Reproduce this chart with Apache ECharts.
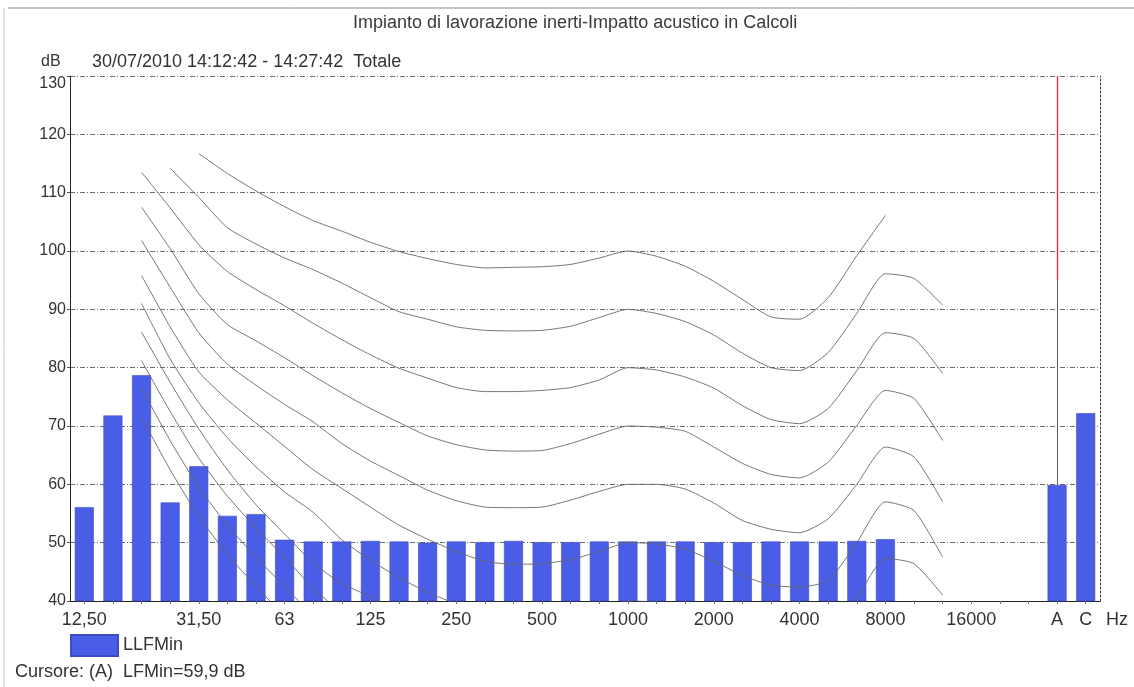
<!DOCTYPE html>
<html>
<head>
<meta charset="utf-8">
<title>Impianto di lavorazione inerti-Impatto acustico in Calcoli</title>
<script src="https://cdn.jsdelivr.net/npm/echarts@6/dist/echarts.min.js"></script>
<style>
  html, body { margin: 0; padding: 0; background: #ffffff; }
  #chart { width: 1134px; height: 687px; }
</style>
</head>
<body>
<div id="chart"></div>
<script>
// Third-octave bands 12.5 Hz .. 20 kHz, a spacer, then the A and C weighted totals
const bands = ['12.5','16','20','25','31.5','40','50','63','80','100','125','160','200','250','315','400','500','630','800','1000','1250','1600','2000','2500','3150','4000','5000','6300','8000','10000','12500','16000','20000','-','A','C'];

// Labels printed under the axis (blank where the band is not labelled)
const tickLabels = ['12,50','','','','31,50','','','63','','','125','','','250','','','500','','','1000','','','2000','','','4000','','','8000','','','16000','','','A','C'];

// LLFMin per band (dB)
const llfMin = [56.1, 71.8, 78.7, 56.9, 63.1, 54.6, 54.9, 50.5, 50.2, 50.2, 50.3, 50.2, 50.0, 50.2, 50.1, 50.3, 50.1, 50.1, 50.2, 50.2, 50.2, 50.2, 50.1, 50.1, 50.2, 50.2, 50.2, 50.3, 50.6, null, null, null, null, null, 59.9, 72.2];

// Equal-loudness contours, dB per band from 20 Hz to 12.5 kHz
const phon100 = [null, null, 116.7, 113.3, 110.3, 107.6, 105.2, 103.4, 101.5, 99.9, 98.7, 97.7, 97.1, 97.2, 97.3, 97.7, 98.8, 100, 99.1, 97.4, 94.8, 91.7, 88.7, 88.3, 92.0, 99.2, 106.1, null, null];
const phon90  = [null, 114.2, 109.2, 104.0, 101.2, 98.8, 96.8, 94.5, 92.0, 89.6, 88.3, 87.0, 86.4, 86.3, 86.4, 87.1, 88.6, 90, 89.3, 87.9, 85.6, 82.5, 80.0, 79.5, 82.6, 89.3, 96.1, 95.3, 90.7];
const phon80  = [113.5, 107.4, 101.1, 96.5, 93.4, 90.6, 87.6, 84.8, 82.2, 79.9, 78.2, 76.6, 75.9, 75.9, 76.1, 76.6, 77.9, 80, 79.6, 78.4, 76.5, 73.5, 71.1, 70.4, 73.0, 79.5, 86.0, 85.0, 79.0];
const phon70  = [107.5, 100.4, 92.7, 87.4, 84.6, 81.7, 78.6, 75.7, 73.0, 70.6, 68.3, 66.8, 65.9, 65.7, 65.8, 67.0, 68.6, 70, 69.8, 69.1, 66.4, 63.6, 61.7, 61.1, 63.8, 70.1, 76.1, 74.7, 67.5];
const phon60  = [101.8, 93.8, 86.0, 80.6, 77.0, 73.7, 70.7, 67.0, 64.0, 61.5, 59.0, 57.2, 56.1, 56.0, 56.1, 57.3, 58.8, 60, 60.0, 59.2, 56.8, 53.8, 52.3, 51.7, 54.1, 60.0, 66.4, 64.7, 57.0];
const phon50  = [95.8, 87.0, 79.3, 74.5, 70.5, 66.5, 62.5, 59.3, 56.1, 53.0, 50.6, 48.5, 46.8, 46.3, 46.4, 47.1, 48.5, 50, 49.8, 48.9, 46.8, 44.4, 42.7, 42.4, 43.5, 50.0, 57.0, 55.5, 47.5];
const phon40  = [91.0, 81.5, 74.0, 68.0, 63.0, 58.7, 55.2, 50.5, 47.0, 44.0, 41.5, 39.5, 38.0, 37.0, 37.0, 37.5, 38.5, 40, 39.8, 39.0, 37.0, 34.5, 33.0, 32.5, 34.0, 40.5, 47.3, 46.4, 41.0];
const phon30  = [86.1, 77.5, 69.5, 62.5, 56.5, 51.5, 46.5, 43.0, 40.7, 37.5, 35.5];
const phon20  = [81.2, 72.5, 64.5, 58.0, 52.5, 47.5, 42.2, 38.0, 35.0];
const phon10  = [76.5, 67.5, 59.5, 53.0, 47.5, 42.5, 37.5, 34.0];
const phon0   = [71.5, 62.5, 54.5, 48.0, 42.5, 37.5, 33.5];

const contours = [phon100, phon90, phon80, phon70, phon60, phon50, phon40, phon30, phon20, phon10, phon0];
const contourNames = ['100 phon','90 phon','80 phon','70 phon','60 phon','50 phon','40 phon','30 phon','20 phon','10 phon','0 phon'];

// Cursor line on the A total: red upper part, dark lower part (dB)
const cursorTop = 130;
const cursorSplit = 95;

// Contours start at the 20 Hz band (index 2); pad to the full band list
function alignToBands(arr) {
  const out = [null, null];
  for (let i = 0; i < bands.length - 2; i++) out.push(i < arr.length ? arr[i] : null);
  return out;
}

const fontFamily = '"Liberation Sans", Arial, sans-serif';
const chart = echarts.init(document.getElementById('chart'), null, { renderer: 'canvas' });

const contourSeries = contours.map((arr, k) => ({
  name: contourNames[k],
  type: 'line',
  data: alignToBands(arr),
  symbol: 'none',
  smooth: 0.2,
  clip: true,
  silent: true,
  z: 3,
  lineStyle: { color: '#666666', width: 0.9 }
}));

chart.setOption({
  animation: false,
  backgroundColor: '#ffffff',
  textStyle: { fontFamily: fontFamily },
  title: {
    text: 'Impianto di lavorazione inerti-Impatto acustico in Calcoli',
    left: 348,
    top: 9,
    textStyle: { fontSize: 18, fontWeight: 'normal', color: '#3a3a3a', fontFamily: fontFamily }
  },
  legend: {
    data: ['LLFMin'],
    left: 65,
    top: 629,
    itemWidth: 47,
    itemHeight: 21,
    itemGap: 8,
    icon: 'rect',
    textStyle: { fontSize: 18, color: '#333', fontFamily: fontFamily }
  },
  grid: { left: 70, right: 34, top: 76, bottom: 86, containLabel: false },
  xAxis: {
    type: 'category',
    data: bands,
    boundaryGap: true,
    axisLine: { show: true, lineStyle: { color: '#222', width: 1 } },
    axisTick: { show: true, interval: 0, alignWithLabel: true, length: 3, lineStyle: { color: '#777' } },
    axisLabel: {
      interval: 0,
      margin: 10,
      fontSize: 18,
      color: '#333',
      fontFamily: fontFamily,
      formatter: (v) => tickLabels[bands.indexOf(v)]
    },
    splitLine: { show: false }
  },
  yAxis: [{
    type: 'value',
    min: 40,
    max: 130,
    interval: 10,
    axisLine: { show: true, lineStyle: { color: '#222', width: 1 } },
    axisTick: { show: true, length: 3, lineStyle: { color: '#555' } },
    axisLabel: { fontSize: 16, color: '#333', margin: 4, fontFamily: fontFamily, verticalAlignMaxLabel: 'top' },
    splitLine: { show: true, lineStyle: { color: '#555', width: 1, type: [5, 2, 1, 2], opacity: 0.85 } }
  }, {
    type: 'value',
    position: 'right',
    min: 40,
    max: 130,
    interval: 10,
    axisLine: { show: true, lineStyle: { color: '#444', width: 1, type: [2, 2] } },
    axisTick: { show: false },
    axisLabel: { show: false },
    splitLine: { show: false }
  }],
  series: [{
    name: 'LLFMin',
    type: 'bar',
    data: llfMin,
    barWidth: 19,
    clip: true,
    z: 2,
    itemStyle: { color: '#4a5de6', borderColor: '#3c4bc4', borderWidth: 0.6 },
    markLine: {
      silent: true,
      symbol: 'none',
      label: { show: false },
      data: [
        [{ xAxis: 'A', yAxis: cursorTop, lineStyle: { color: '#e8263a', width: 1.3, type: 'solid' } },
         { xAxis: 'A', yAxis: cursorSplit }],
        [{ xAxis: 'A', yAxis: cursorSplit, lineStyle: { color: '#5a5a5a', width: 1, type: 'solid' } },
         { xAxis: 'A', yAxis: llfMin[34] }]
      ]
    }
  }].concat(contourSeries),
  graphic: [
    { type: 'line', shape: { x1: 8, y1: 8, x2: 1134, y2: 8 }, style: { stroke: '#8a8a8a', lineWidth: 1 } },
    { type: 'line', shape: { x1: 4, y1: 8, x2: 4, y2: 687 }, style: { stroke: '#c8c8c8', lineWidth: 1 } },
    { type: 'text', left: 41, top: 54, style: { text: 'dB', fontSize: 16, fill: '#333', fontFamily: fontFamily } },
    { type: 'text', left: 92, top: 53, style: { text: '30/07/2010 14:12:42 - 14:27:42  Totale', fontSize: 18, fill: '#333', fontFamily: fontFamily } },
    { type: 'text', left: 1106, top: 611, style: { text: 'Hz', fontSize: 18, fill: '#333', fontFamily: fontFamily } },
    { type: 'text', left: 15, top: 663, style: { text: 'Cursore: (A)  LFMin=59,9 dB', fontSize: 18, fill: '#333', fontFamily: fontFamily } }
  ]
});
</script>
</body>
</html>
